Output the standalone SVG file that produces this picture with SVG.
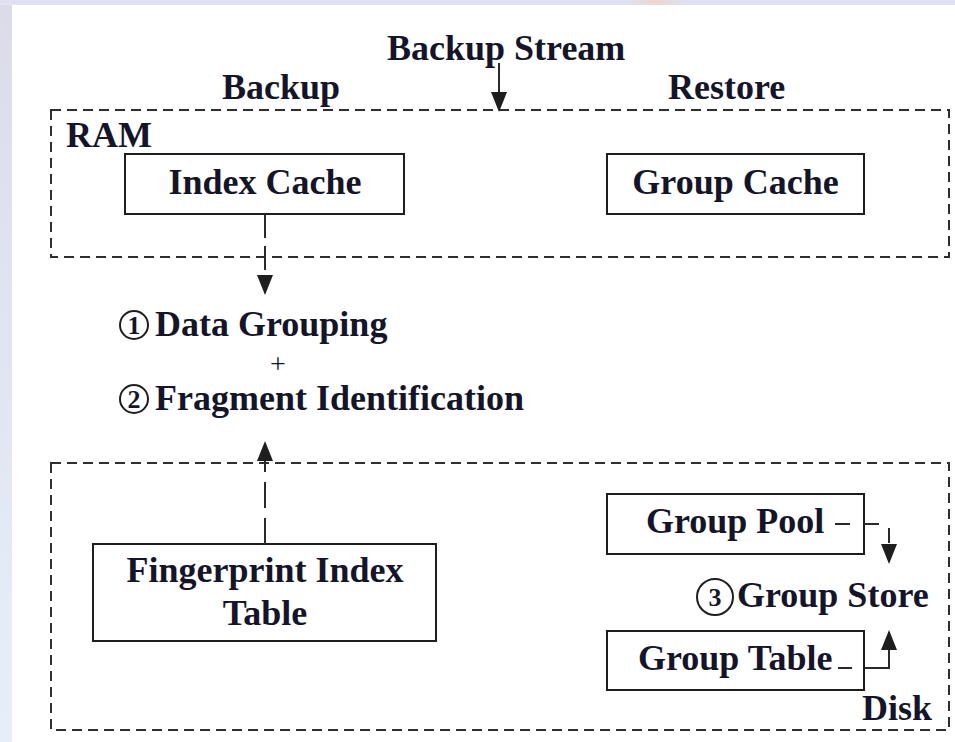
<svg xmlns="http://www.w3.org/2000/svg" width="955" height="742" viewBox="0 0 955 742">
  <style>
    .lbl { font-family: "Liberation Serif", "Times New Roman", serif; font-weight: bold; font-size: 36px; fill: #15152a; }
    .mid { text-anchor: middle; }
    .num { font-family: "Liberation Serif", "Times New Roman", serif; font-weight: bold; font-size: 26px; fill: #15152a; text-anchor: middle; }
    .plus { font-family: "Liberation Serif", "Times New Roman", serif; font-size: 28px; fill: #15152a; text-anchor: middle; }
    .box { fill: #ffffff; stroke: #1e1e1e; stroke-width: 2; }
    .region { fill: none; stroke: #2e2e2e; stroke-width: 2; stroke-dasharray: 10 6; }
    .ring { fill: none; stroke: #1e1e1e; stroke-width: 2; }
    .link { fill: none; stroke: #2a2a2a; stroke-width: 2; }
  </style>
  <defs>
    <linearGradient id="sideBand" x1="0" y1="0" x2="0" y2="1">
      <stop offset="0" stop-color="#dcdce9"/>
      <stop offset="1" stop-color="#e7eefb"/>
    </linearGradient>
    <radialGradient id="warmSpot" cx="0.5" cy="0.5" r="0.5">
      <stop offset="0" stop-color="#f1d2c0"/>
      <stop offset="1" stop-color="#dfe1f3" stop-opacity="0"/>
    </radialGradient>
    <marker id="head" viewBox="0 0 20 16" markerWidth="20" markerHeight="16" refX="18" refY="8" orient="auto" markerUnits="userSpaceOnUse">
      <path d="M0,0 L20,8 L0,16 Z" fill="#1e1e1e"/>
    </marker>
  </defs>

  <!-- page backdrop -->
  <rect x="0" y="0" width="955" height="742" fill="url(#sideBand)"/>
  <rect x="0" y="0" width="955" height="5" fill="#dfe1f3"/>
  <ellipse cx="655" cy="2" rx="40" ry="6" fill="url(#warmSpot)"/>
  <rect x="12" y="5" width="943" height="737" fill="#ffffff"/>

  <!-- memory and storage regions -->
  <g id="ram">
    <rect class="region" x="51" y="110" width="898" height="147"/>
    <text class="lbl" x="66" y="147">RAM</text>
  </g>
  <g id="disk">
    <rect class="region" x="51" y="463" width="898" height="267"/>
    <text class="lbl" x="862" y="720">Disk</text>
  </g>

  <!-- stage headings -->
  <g id="backup-stream">
    <text class="lbl" x="387" y="60">Backup Stream</text>
  </g>
  <g id="backup-label">
    <text class="lbl" x="222" y="99">Backup</text>
  </g>
  <g id="restore-label">
    <text class="lbl" x="668" y="99">Restore</text>
  </g>

  <!-- nodes -->
  <g id="index-cache">
    <rect class="box" x="125" y="154" width="279" height="60"/>
    <text class="lbl mid" x="265" y="194">Index Cache</text>
  </g>
  <g id="group-cache">
    <rect class="box" x="607" y="154" width="257" height="60"/>
    <text class="lbl mid" x="735.5" y="194">Group Cache</text>
  </g>
  <g id="grouping-step">
    <circle class="ring" cx="134" cy="325" r="14"/>
    <text class="num" x="134" y="334">1</text>
    <text class="lbl" x="155" y="336">Data Grouping</text>
    <text class="plus" x="278" y="373">+</text>
    <circle class="ring" cx="134" cy="399" r="14"/>
    <text class="num" x="134" y="408">2</text>
    <text class="lbl" x="155" y="410">Fragment Identification</text>
  </g>
  <g id="fingerprint-index">
    <rect class="box" x="93" y="544" width="343" height="97"/>
    <text class="lbl mid" x="265" y="582">Fingerprint Index</text>
    <text class="lbl mid" x="265" y="625">Table</text>
  </g>
  <g id="group-pool">
    <rect class="box" x="607" y="494" width="257" height="60"/>
    <text class="lbl" x="646" y="533">Group Pool</text>
  </g>
  <g id="group-store">
    <circle class="ring" cx="715" cy="597" r="18"/>
    <text class="num" x="715" y="606">3</text>
    <text class="lbl" x="737" y="607">Group Store</text>
  </g>
  <g id="group-table">
    <rect class="box" x="607" y="631" width="257" height="59"/>
    <text class="lbl" x="638" y="670">Group Table</text>
  </g>

  <!-- connectors -->
  <g id="connectors">
    <path class="link" d="M499,63 V110" marker-end="url(#head)"/>
    <path class="link" d="M265,214 V293" stroke-dasharray="24 8" marker-end="url(#head)"/>
    <path class="link" d="M265,544 V443" stroke-dasharray="26 10" marker-end="url(#head)"/>
    <path class="link" d="M835,524 H889 V562" stroke-dasharray="15 14" marker-end="url(#head)"/>
    <path class="link" d="M838,668 H889 V632" stroke-dasharray="14 13 60" marker-end="url(#head)"/>
  </g>
</svg>
